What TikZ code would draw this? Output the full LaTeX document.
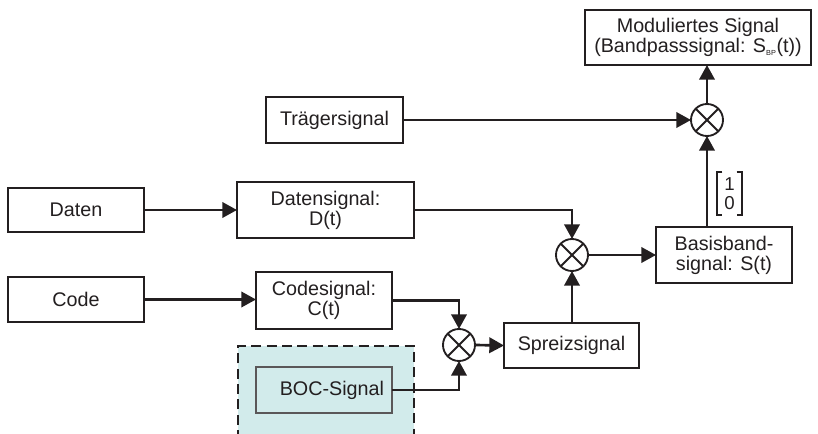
\documentclass[tikz,border=0pt]{standalone}
\usepackage{fontspec}
\setmainfont{Liberation Sans}
\usetikzlibrary{arrows.meta}
\definecolor{ink}{RGB}{35,31,32}
\definecolor{bocfill}{RGB}{210,235,235}
\tikzset{
  every node/.style={font=\fontsize{14.8}{15}\selectfont, text=ink, outer sep=0pt},
  blk/.style={draw=ink, line width=1.4pt, fill=white, align=center, inner sep=2pt},
  mult/.style={draw=ink, line width=1.4pt, circle, minimum size=24pt, inner sep=0pt},
  conn/.style={draw=ink, line width=2pt},
  arr/.style={conn, -{Triangle[length=11pt,width=11.5pt]}},
}
\newcommand{\crossit}[1]{\draw[ink, line width=1.4pt] (#1.north west) -- (#1.south east) (#1.north east) -- (#1.south west);}
\begin{document}
\begin{tikzpicture}[x=0.75pt, y=-0.75pt]
\useasboundingbox (0,0) rectangle (818,434);
% dashed BOC region
\fill[bocfill] (238,346) rectangle (414,440);
\draw[ink, line width=2pt, dash pattern=on 7.5pt off 4pt] (238,440) -- (238,346) -- (414,346) -- (414,440);
% boxes
\node[blk, minimum width=169.5pt, minimum height=41.25pt] (mod) at (698,37.5) {Moduliertes Signal\\(Bandpasssignal: S\textsubscript{\fontsize{5.5}{6}\selectfont BP}(t))};
\node[blk, minimum width=102.75pt, minimum height=34.5pt] (traeger) at (334.5,120) {Trägersignal};
\node[blk, minimum width=102pt, minimum height=33pt] (daten) at (76,210) {Daten};
\node[blk, minimum width=132.75pt, minimum height=42pt] (dsig) at (325.5,210) {Datensignal:\\D(t)};
\node[blk, minimum width=102pt, minimum height=33.75pt] (code) at (76,299.5) {Code};
\node[blk, minimum width=102pt, minimum height=42.75pt] (csig) at (324,300.5) {Codesignal:\\C(t)};
\node[draw=ink!75, line width=0.8pt, minimum height=34.5pt, text width=90pt, inner xsep=6pt, align=right] (boc) at (324,390) {BOC-Signal};
\node[blk, minimum width=101.25pt, minimum height=33.75pt] (spreiz) at (571.5,345.5) {Spreizsignal};
\node[blk, minimum width=102pt, minimum height=42pt] (basis) at (724,255) {Basisband-\\signal: S(t)};
% multipliers
\node[mult] (m1) at (707,120) {};
\node[mult] (m2) at (572,255) {};
\node[mult] (m3) at (459,345) {};
\crossit{m1}\crossit{m2}\crossit{m3}
% bracket [1;0]
\node[font=\fontsize{14}{14.5}\selectfont, align=center, minimum width=18.75pt, minimum height=32.25pt, inner sep=0pt] (br) at (729.5,193.5) {1\\0};
\draw[ink, line width=0.9pt] ([xshift=4pt]br.north west) -- (br.north west) -- (br.south west) -- ([xshift=4pt]br.south west);
\draw[ink, line width=0.9pt] ([xshift=-4pt]br.north east) -- (br.north east) -- (br.south east) -- ([xshift=-4pt]br.south east);
% connectors
\draw[arr] (traeger.east) -- (m1.west);
\draw[arr] (m1.north) -- (mod.south -| m1);
\draw[arr] (basis.north -| m1) -- (m1.south);
\draw[arr] (daten.east) -- (dsig.west);
\draw[arr] (dsig.east) -| (m2.north);
\draw[arr] (m2.east) -- (basis.west);
\draw[arr] (spreiz.north -| m2) -- (m2.south);
\draw[arr] (code.east) -- (code.east -| csig.west);
\draw[arr] (csig.east) -| (m3.north);
\draw[arr] (boc.east) -| (m3.south);
\draw[arr] (m3.east) -- (spreiz.west);
\end{tikzpicture}
\end{document}
